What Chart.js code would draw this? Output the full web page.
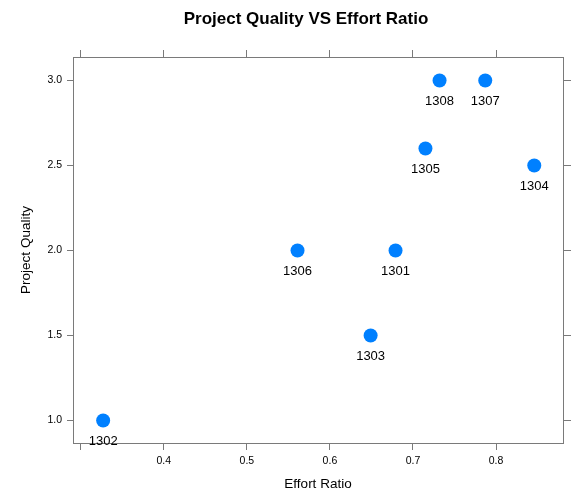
<!DOCTYPE html>
<html><head><meta charset="utf-8">
<script src="https://cdn.jsdelivr.net/npm/chart.js@4.4.1/dist/chart.umd.min.js"></script>
<style>html,body{margin:0;padding:0;background:#fff}#wrap{width:578px;height:496px}</style>
</head><body><div id="wrap"><canvas id="c" width="578" height="496"></canvas></div>
<script>
const projectIds = ['1301','1302','1303','1304','1305','1306','1307','1308'];
const effortRatio = [0.679,0.327,0.649,0.846,0.715,0.561,0.787,0.732];
const projectQuality = [2.0,1.0,1.5,2.5,2.6,2.0,3.0,3.0];
const xTicks = [0.3,0.4,0.5,0.6,0.7,0.8];
const xTickLabels = ['','0.4','0.5','0.6','0.7','0.8'];
const yTicks = [1.0,1.5,2.0,2.5,3.0];
const yTickLabels = ['1.0','1.5','2.0','2.5','3.0'];
const chartTitle = 'Project Quality VS Effort Ratio';
const xTitle = 'Effort Ratio';
const yTitle = 'Project Quality';

const FONT = '"Liberation Sans", Arial, Helvetica, sans-serif';
const AXIS = '#7a7a7a';
Chart.defaults.font.family = FONT;
Chart.defaults.color = '#000';

function lbl(ticks, labels){ return v => { const i = ticks.findIndex(t => Math.abs(t - v) < 1e-9); return i < 0 ? '' : labels[i]; }; }
function setTicks(list){ return s => { s.ticks = list.map(v => ({value: v})); }; }

const pointLabels = {
  id: 'pointLabels',
  afterDatasetsDraw(chart){
    const ctx = chart.ctx, meta = chart.getDatasetMeta(0);
    ctx.save();
    ctx.font = '13px ' + FONT; ctx.fillStyle = '#000';
    ctx.textAlign = 'center'; ctx.textBaseline = 'middle';
    meta.data.forEach((pt, i) => ctx.fillText(projectIds[i], pt.x, pt.y + 21));
    ctx.restore();
  }
};
const mainTitle = {
  id: 'mainTitle',
  afterDraw(chart){
    const ctx = chart.ctx;
    ctx.save();
    ctx.font = 'bold 17px ' + FONT; ctx.fillStyle = '#000';
    ctx.textAlign = 'center'; ctx.textBaseline = 'alphabetic';
    ctx.fillText(chartTitle, 306, 23.5);
    ctx.restore();
  }
};

new Chart(document.getElementById('c'), {
  type: 'scatter',
  data: { datasets: [{
    data: effortRatio.map((x, i) => ({x, y: projectQuality[i]})),
    backgroundColor: '#0080FF', borderWidth: 0, pointRadius: 7, pointHoverRadius: 7,
    xAxisID: 'x', yAxisID: 'y', clip: false
  }]},
  options: {
    responsive: false, animation: false, devicePixelRatio: 1,
    events: [],
    layout: { padding: 0 },
    plugins: { legend: { display: false }, tooltip: { enabled: false }, title: { display: false } },
    scales: {
      x: {
        type: 'linear', position: 'bottom', min: 0.2907, max: 0.8806,
        afterBuildTicks: setTicks(xTicks),
        afterFit: s => { s.height = 53; },
        ticks: { callback: lbl(xTicks, xTickLabels), font: { size: 10.5 }, color: '#000', padding: 5, maxRotation: 0, autoSkip: false },
        grid: { drawOnChartArea: false, drawTicks: true, tickLength: 7, color: AXIS, tickColor: AXIS },
        border: { display: true, color: AXIS, width: 1 },
        title: { display: true, text: xTitle, font: { size: 13.5 }, color: '#000', padding: { top: 0, bottom: 4 } }
      },
      x2: {
        type: 'linear', axis: 'x', position: 'top', min: 0.2907, max: 0.8806,
        afterBuildTicks: setTicks(xTicks),
        afterFit: s => { s.height = 57; },
        ticks: { display: false },
        grid: { drawOnChartArea: false, drawTicks: true, tickLength: 7, color: AXIS, tickColor: AXIS },
        border: { display: true, color: AXIS, width: 1 }
      },
      y: {
        type: 'linear', position: 'left', min: 0.868, max: 3.138,
        afterBuildTicks: setTicks(yTicks),
        afterFit: s => { s.width = 73; },
        ticks: { callback: lbl(yTicks, yTickLabels), font: { size: 10.5 }, color: '#000', padding: 5, autoSkip: false },
        grid: { drawOnChartArea: false, drawTicks: true, tickLength: 6, color: AXIS, tickColor: AXIS },
        border: { display: true, color: AXIS, width: 1 },
        title: { display: true, text: yTitle, font: { size: 13.5 }, color: '#000', padding: { top: 18, bottom: 0 } }
      },
      y2: {
        type: 'linear', axis: 'y', position: 'right', min: 0.868, max: 3.138,
        afterBuildTicks: setTicks(yTicks),
        afterFit: s => { s.width = 15; },
        ticks: { display: false },
        grid: { drawOnChartArea: false, drawTicks: true, tickLength: 8, color: AXIS, tickColor: AXIS },
        border: { display: true, color: AXIS, width: 1 }
      }
    }
  },
  plugins: [pointLabels, mainTitle]
});
</script></body></html>
